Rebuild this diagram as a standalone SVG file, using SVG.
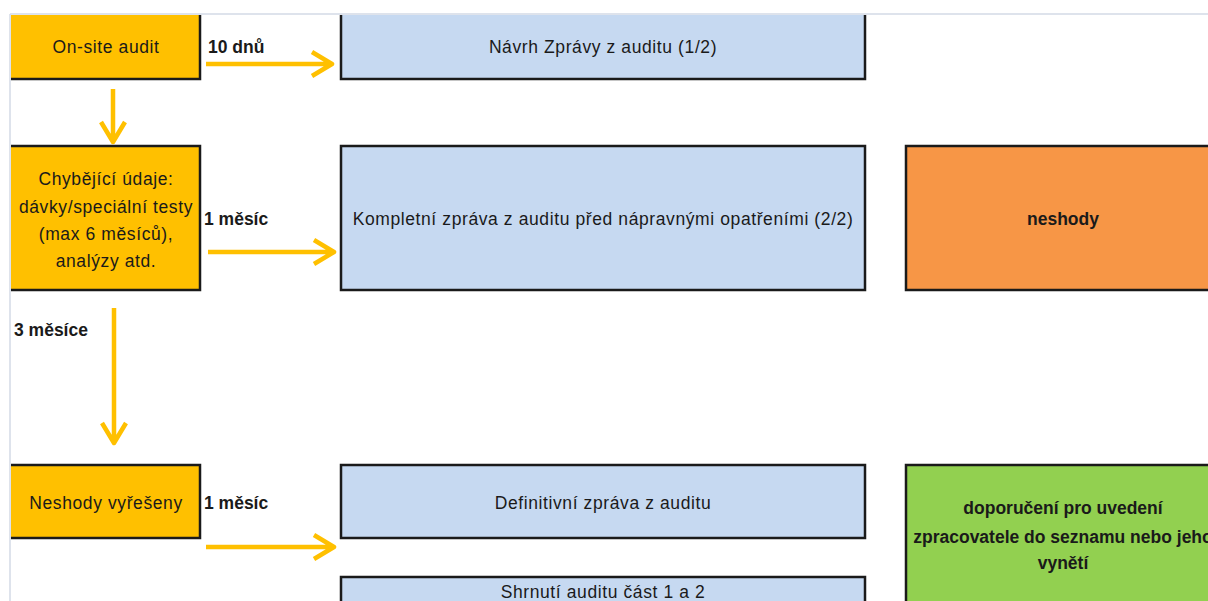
<svg xmlns="http://www.w3.org/2000/svg" width="1208" height="601" viewBox="0 0 1208 601">
<style>
.box{stroke:#1a1a1a;stroke-width:2.5}
.yel{fill:#FFC000}
.blue{fill:#C6D9F1}
.org{fill:#F79646}
.grn{fill:#92D050}
text{font-family:"Liberation Sans",Arial,sans-serif;font-size:17.5px;letter-spacing:0.6px;fill:#1a1a1a;text-anchor:middle}
.b{font-weight:bold;letter-spacing:0}
.lbl{font-weight:bold;letter-spacing:0;text-anchor:start}
.arr{stroke:#FFC000;stroke-width:4.5;fill:none;stroke-linecap:butt;stroke-linejoin:round}
</style>
<defs>
<clipPath id="area"><rect x="11" y="15" width="1197" height="586"/></clipPath>
</defs>
<rect width="1208" height="601" fill="#fff"/>
<line x1="10" y1="14" x2="1208" y2="14" stroke="#D3DAE6" stroke-width="1.5"/>
<line x1="10" y1="14" x2="10" y2="601" stroke="#D3DAE6" stroke-width="1.5"/>
<g clip-path="url(#area)">
<g id="onsite"><rect class="box yel" x="-5" y="5" width="205" height="74"/><text x="106" y="53">On-site audit</text></g>
<g id="navrh"><rect class="box blue" x="341" y="5" width="524" height="74"/><text x="603" y="53">Návrh Zprávy z auditu (1/2)</text></g>
<g id="chybejici"><rect class="box yel" x="-5" y="146" width="205" height="144"/>
<text x="106" y="185">Chybějící údaje:</text><text x="106" y="213">dávky/speciální testy</text><text x="106" y="240">(max 6 měsíců),</text><text x="106" y="267">analýzy atd.</text></g>
<g id="kompletni"><rect class="box blue" x="341" y="146" width="524" height="144"/><text x="603" y="225">Kompletní zpráva z auditu před nápravnými opatřeními (2/2)</text></g>
<g id="neshody"><rect class="box org" x="906" y="146" width="320" height="144"/><text class="b" x="1063" y="225">neshody</text></g>
<g id="vyreseny"><rect class="box yel" x="-5" y="465" width="205" height="73"/><text x="106" y="509">Neshody vyřešeny</text></g>
<g id="definitivni"><rect class="box blue" x="341" y="465" width="524" height="73"/><text x="603" y="509">Definitivní zpráva z auditu</text></g>
<g id="shrnuti"><rect class="box blue" x="341" y="577" width="524" height="40"/><text x="603" y="598">Shrnutí auditu část 1 a 2</text></g>
<g id="doporuceni"><rect class="box grn" x="906" y="465" width="320" height="150"/>
<text class="b" x="1063" y="514">doporučení pro uvedení</text><text class="b" x="1063" y="543">zpracovatele do seznamu nebo jeho</text><text class="b" x="1063" y="569">vynětí</text></g>
</g>
<g id="connectors">
<path class="arr" d="M206 64H331M312 52L332 64L312 76"/>
<path class="arr" d="M113 89V141M101 122L113 142L125 122"/>
<path class="arr" d="M208 252H333M314 240L334 252L314 264"/>
<path class="arr" d="M114 308V442M102 423L114 443L126 423"/>
<path class="arr" d="M206 547H333M314 535L334 547L314 559"/>
<text class="lbl" x="208" y="53">10 dnů</text>
<text class="lbl" x="204" y="225">1 měsíc</text>
<text class="lbl" x="14" y="336">3 měsíce</text>
<text class="lbl" x="204" y="509">1 měsíc</text>
</g>
</svg>
